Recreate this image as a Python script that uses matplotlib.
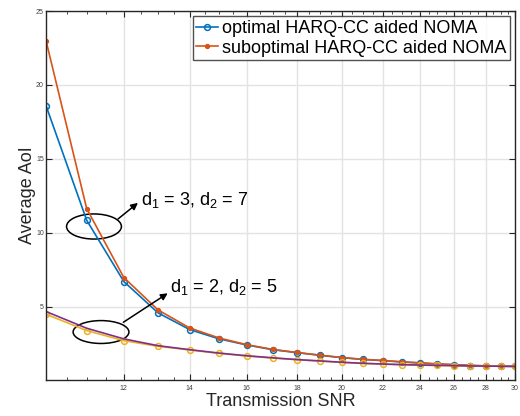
import matplotlib
matplotlib.use("Agg")
import matplotlib.pyplot as plt
from matplotlib.patches import Ellipse
from matplotlib.ticker import FixedLocator, NullFormatter, FixedFormatter

plt.rcParams['font.family'] = ['Liberation Sans', 'DejaVu Sans']
plt.rcParams['mathtext.fontset'] = 'custom'
plt.rcParams['mathtext.rm'] = 'Liberation Sans'
plt.rcParams['mathtext.it'] = 'Liberation Sans'

snr = list(range(10, 31))
opt_37 = [18.6, 10.85, 6.71, 4.59, 3.46, 2.83, 2.42, 2.10, 1.90, 1.72, 1.56, 1.44,
          1.36, 1.27, 1.20, 1.13, 1.08, 1.03, 1.00, 0.98, 0.97]
sub_37 = [23.0, 11.64, 6.98, 4.79, 3.57, 2.89, 2.44, 2.12, 1.91, 1.73, 1.57, 1.45,
          1.37, 1.28, 1.21, 1.14, 1.09, 1.04, 1.01, 0.99, 0.98]
opt_25 = [4.50, 3.39, 2.71, 2.33, 2.08, 1.85, 1.67, 1.54, 1.42, 1.33, 1.24, 1.17,
          1.13, 1.08, 1.06, 1.04, 1.02, 1.00, 0.99, 0.98, 0.97]
sub_25 = [4.68, 3.55, 2.83, 2.37, 2.10, 1.87, 1.69, 1.55, 1.43, 1.34, 1.25, 1.18,
          1.13, 1.09, 1.06, 1.04, 1.02, 1.00, 0.99, 0.98, 0.97]
xticks = [12, 14, 16, 18, 20, 22, 24, 26, 28, 30]
yticks = [5, 10, 15, 20, 25]
legend_labels = ['optimal HARQ-CC aided NOMA', 'suboptimal HARQ-CC aided NOMA']
ann1 = 'd$_1$ = 3, d$_2$ = 7'
ann2 = 'd$_1$ = 2, d$_2$ = 5'

c_blue, c_orange, c_yellow, c_purple = '#0072BD', '#D95319', '#EDB120', '#7E2F8E'
axcol = '#262626'

fig = plt.figure(figsize=(5.2, 4.16), dpi=100)
ax = fig.add_axes([46/520, 1-380/416, 469/520, 369/416])

l1, = ax.plot(snr, opt_37, '-o', color=c_blue, lw=1.2, ms=4.2, mfc='none', mew=1.1)
l2, = ax.plot(snr, sub_37, '-o', color=c_orange, lw=1.2, ms=3.0, mfc=c_orange, mew=0.8)
ax.plot(snr, opt_25, '-o', color=c_yellow, lw=1.2, ms=4.2, mfc='none', mew=1.1)
ax.plot(snr, sub_25, '-', color=c_purple, lw=1.2)

ax.set_xscale('log')
ax.set_xlim(10, 30)
ax.set_ylim(0.05, 25)
ax.xaxis.set_major_locator(FixedLocator(xticks))
ax.xaxis.set_major_formatter(FixedFormatter([str(t) for t in xticks]))
minors = [10 + 0.5*i for i in range(41)]
ax.xaxis.set_minor_locator(FixedLocator(minors))
ax.xaxis.set_minor_formatter(NullFormatter())
ax.yaxis.set_major_locator(FixedLocator(yticks))
ax.yaxis.set_minor_locator(FixedLocator([]))

ax.grid(True, which='major', color='#e3e3e3', lw=1.0)
ax.set_axisbelow(True)
for s in ax.spines.values():
    s.set_color(axcol)
    s.set_linewidth(1.0)
ax.tick_params(which='both', direction='in', top=True, right=True, colors=axcol,
               labelsize=5, labelcolor='#404040')
ax.tick_params(which='major', length=4, width=0.8)
ax.tick_params(which='minor', length=2.5, width=0.6)
ax.tick_params(axis='x', which='major', pad=3.5)
ax.tick_params(axis='y', which='major', pad=1.5)

ax.set_xlabel('Transmission SNR', fontsize=13, color=axcol)
ax.xaxis.set_label_coords(0.5, -0.036)
ax.xaxis.label.set_va('top')
ax.set_ylabel('Average AoI', fontsize=13, color=axcol)
ax.yaxis.set_label_coords(-0.022, 0.5)

leg = ax.legend([l1, l2], legend_labels, loc='upper right', fontsize=13,
                frameon=True, fancybox=False, edgecolor='#262626',
                borderaxespad=0.3, handlelength=1.2, handletextpad=0.2,
                borderpad=0.2, labelspacing=0.15)
leg.get_frame().set_linewidth(1.0)

# annotations (axes fraction)
e1 = Ellipse((0.1023, 0.416), 0.117, 0.068, transform=ax.transAxes,
             fill=False, ec='black', lw=1.1)
e2 = Ellipse((0.1173, 0.130), 0.119, 0.062, transform=ax.transAxes,
             fill=False, ec='black', lw=1.1)
ax.add_patch(e1)
ax.add_patch(e2)
ax.annotate('', xy=(0.196, 0.480), xytext=(0.1535, 0.4363), xycoords='axes fraction',
            arrowprops=dict(arrowstyle='-|>', color='black', lw=1.1, mutation_scale=10,
                            shrinkA=0, shrinkB=0))
ax.annotate('', xy=(0.2595, 0.235), xytext=(0.1649, 0.1564), xycoords='axes fraction',
            arrowprops=dict(arrowstyle='-|>', color='black', lw=1.1, mutation_scale=10,
                            shrinkA=0, shrinkB=0))
ax.text(0.2026, 0.4743, ann1, transform=ax.transAxes, fontsize=13, va='baseline', ha='left')
ax.text(0.2644, 0.239, ann2, transform=ax.transAxes, fontsize=13, va='baseline', ha='left')

fig.savefig('out.png', dpi=100)
